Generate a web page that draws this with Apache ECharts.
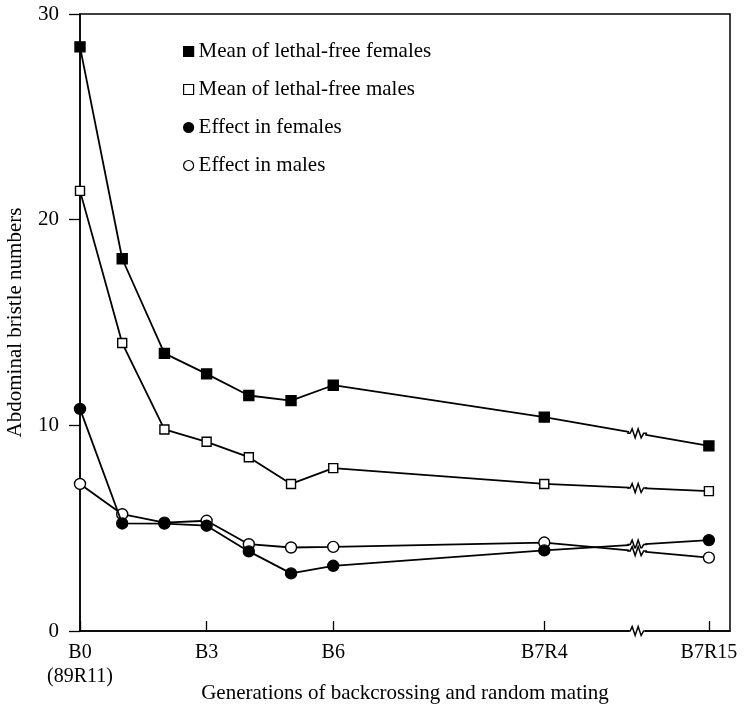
<!DOCTYPE html>
<html>
<head>
<meta charset="utf-8">
<script src="https://cdn.jsdelivr.net/npm/echarts@6/dist/echarts.min.js"></script>
<style>html,body{margin:0;padding:0;background:#fff;}#c{width:747px;height:709px;}</style>
</head>
<body>
<div id="c"></div>
<script>
// generation positions along the x axis (B0..B6 one step apart, then B7R4 and B7R15 after the gap)
var xPositions = [0, 1, 2, 3, 4, 5, 6, 11, 14.9];
var tickPositions = [0, 3, 6, 11, 14.9];
var tickLabels = ['B0\n(89R11)', 'B3', 'B6', 'B7R4', 'B7R15'];
var breakPosition = 13.2;

var meanFemales = [28.4, 18.1, 13.5, 12.5, 11.45, 11.2, 11.95, 10.4, 9.0];
var meanMales   = [21.4, 14.0, 9.8, 9.2, 8.45, 7.15, 7.92, 7.15, 6.8];
var effFemales  = [10.8, 5.23, 5.22, 5.12, 3.87, 2.8, 3.17, 3.92, 4.42];
var effMales    = [7.15, 5.68, 5.27, 5.36, 4.22, 4.06, 4.09, 4.3, 3.57];

var names = ['Mean of lethal-free females', 'Mean of lethal-free males', 'Effect in females', 'Effect in males'];

var FONT = "'Liberation Serif', 'Times New Roman', serif";

function pairs(vals) { return vals.map(function (v, i) { return [xPositions[i], v]; }); }

function breakY(vals) {
  var n = vals.length;
  var x0 = xPositions[n - 2], x1 = xPositions[n - 1];
  var t = (breakPosition - x0) / (x1 - x0);
  return vals[n - 2] + t * (vals[n - 1] - vals[n - 2]);
}

function mkSeries(name, vals, symbol, filled, size) {
  return {
    name: name,
    type: 'line',
    data: pairs(vals),
    symbol: symbol,
    symbolSize: size,
    showSymbol: true,
    clip: false,
    lineStyle: { color: '#000', width: 1.8 },
    itemStyle: { color: filled ? '#000' : '#fff', borderColor: '#000', borderWidth: 1.4 },
    animation: false,
    z: filled ? 3 : 2
  };
}

var series = [
  mkSeries(names[3], effMales, 'circle', false, 11),
  mkSeries(names[2], effFemales, 'circle', true, 11),
  mkSeries(names[1], meanMales, 'rect', false, 9),
  mkSeries(names[0], meanFemales, 'rect', true, 10)
];

// break marks on each line and on the x axis
var breakData = [[breakPosition, 0]].concat(
  [meanFemales, meanMales, effFemales, effMales].map(function (v) { return [breakPosition, breakY(v)]; })
);

series.push({
  type: 'custom',
  silent: true,
  animation: false,
  clip: false,
  z: 10,
  data: breakData,
  renderItem: function (params, api) {
    var p = api.coord([api.value(0), api.value(1)]);
    var x = p[0], y = p[1];
    return {
      type: 'group',
      children: [
        { type: 'rect', shape: { x: x - 8, y: y - 2.5, width: 16, height: 5 }, style: { fill: '#fff' } },
        { type: 'polyline',
          shape: { points: [[x - 10, y], [x - 7, y], [x - 5, y - 4.5], [x - 2, y + 4.5], [x + 1, y - 4.5], [x + 4, y + 4.5], [x + 6.5, y], [x + 10, y]] },
          style: { stroke: '#000', lineWidth: 1.5, fill: null } }
      ]
    };
  }
});

var chart = echarts.init(document.getElementById('c'));
chart.setOption({
  backgroundColor: '#fff',
  animation: false,
  textStyle: { fontFamily: FONT, color: '#000' },
  grid: { left: 80, right: 17, top: 14, bottom: 78, outerBoundsMode: 'none', containLabel: false,
          show: true, borderColor: '#000', borderWidth: 1.5, backgroundColor: 'transparent' },
  legend: {
    orient: 'vertical', left: 178, top: 36, itemGap: 17,
    itemWidth: 10, itemHeight: 10,
    textStyle: { fontFamily: FONT, fontSize: 21, color: '#000' },
    selectedMode: false,
    data: [
      { name: names[0], icon: 'rect', itemStyle: { color: '#000', borderColor: '#000', borderWidth: 1.2 } },
      { name: names[1], icon: 'rect', itemStyle: { color: '#fff', borderColor: '#000', borderWidth: 1.2 } },
      { name: names[2], icon: 'circle', itemStyle: { color: '#000', borderColor: '#000', borderWidth: 1.2 } },
      { name: names[3], icon: 'circle', itemStyle: { color: '#fff', borderColor: '#000', borderWidth: 1.2 } }
    ]
  },
  xAxis: {
    type: 'value', min: 0, max: 15.4,
    name: 'Generations of backcrossing and random mating',
    nameLocation: 'middle', nameGap: 52, nameMoveOverlap: false,
    nameTextStyle: { fontFamily: FONT, fontSize: 21, color: '#000' },
    axisLine: { lineStyle: { color: '#000', width: 1.5 } },
    axisTick: { inside: true, length: 10, lineStyle: { color: '#000', width: 1.3 }, customValues: tickPositions },
    axisLabel: {
      customValues: tickPositions, margin: 10,
      fontFamily: FONT, fontSize: 20, color: '#000', lineHeight: 24,
      formatter: function (v) {
        for (var i = 0; i < tickPositions.length; i++) if (Math.abs(tickPositions[i] - v) < 1e-6) return tickLabels[i];
        return '';
      }
    },
    splitLine: { show: false }
  },
  yAxis: {
    type: 'value', min: 0, max: 30, interval: 10,
    name: 'Abdominal bristle numbers',
    nameLocation: 'middle', nameGap: 54, nameMoveOverlap: false,
    nameTextStyle: { fontFamily: FONT, fontSize: 21, color: '#000' },
    axisLine: { show: true, lineStyle: { color: '#000', width: 1.5 } },
    axisTick: { show: true, inside: false, length: 11, lineStyle: { color: '#000', width: 1.3 } },
    axisLabel: { margin: 21, fontFamily: FONT, fontSize: 21, color: '#000' },
    splitLine: { show: false }
  },
  series: series
});
</script>
</body>
</html>
